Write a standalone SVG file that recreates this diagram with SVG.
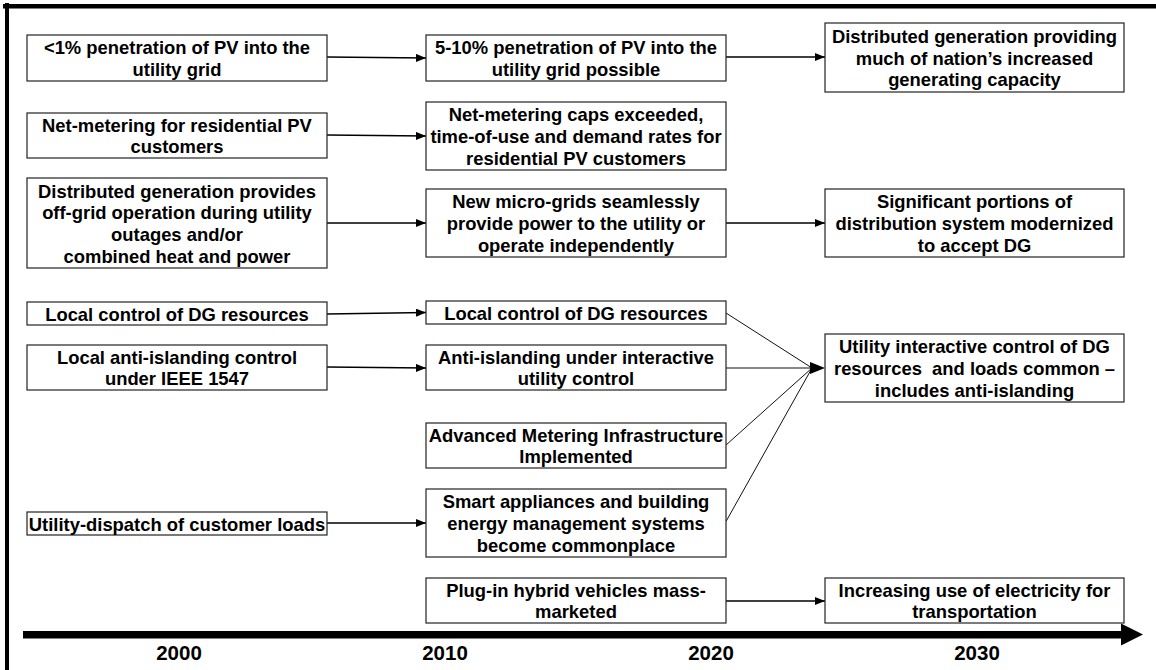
<svg xmlns="http://www.w3.org/2000/svg" width="1156" height="670" viewBox="0 0 1156 670">
<defs>
<style>
.box{fill:#fff;stroke:#222;stroke-width:1.2}
.t{font-family:"Liberation Sans",Arial,sans-serif;font-weight:bold;font-size:18.4px;fill:#000;text-anchor:middle}
.yr{font-family:"Liberation Sans",Arial,sans-serif;font-weight:bold;font-size:20.5px;fill:#000;text-anchor:middle}
.c{stroke:#000;stroke-width:1.5;fill:none}
.f{stroke:#111;stroke-width:1;fill:none}
</style>
<marker id="ah" markerUnits="userSpaceOnUse" markerWidth="10" markerHeight="8" refX="10" refY="4" orient="auto">
<path d="M0,0 L10,4 L0,8 z" fill="#000"/>
</marker>
</defs>
<rect width="1156" height="670" fill="#fff"/>
<g id="frame">
<rect x="3" y="4" width="1153" height="4.5" fill="#000"/>
<rect x="5" y="3" width="4" height="667" fill="#000"/>
</g>
<g id="timeline">
<rect x="23" y="631" width="1099" height="7.5" fill="#000"/>
<polygon points="1121,623.5 1143,634.5 1121,645.5" fill="#000"/>
<text class="yr" x="179" y="660">2000</text>
<text class="yr" x="445" y="660">2010</text>
<text class="yr" x="711" y="660">2020</text>
<text class="yr" x="977" y="660">2030</text>
</g>
<g id="connectors">
<path class="c" d="M327,57 L426,58" marker-end="url(#ah)"/>
<path class="c" d="M327,135 L426,136" marker-end="url(#ah)"/>
<path class="c" d="M327,223 L426,223" marker-end="url(#ah)"/>
<path class="c" d="M327,314 L426,312.5" marker-end="url(#ah)"/>
<path class="c" d="M327,367 L426,368" marker-end="url(#ah)"/>
<path class="c" d="M327,523 L426,523" marker-end="url(#ah)"/>
<path class="c" d="M726,57 L825,57" marker-end="url(#ah)"/>
<path class="c" d="M726,223 L825,223" marker-end="url(#ah)"/>
<path class="c" d="M726,601 L825,601" marker-end="url(#ah)"/>
<path class="f" d="M726,313 L812,368"/>
<path class="f" d="M726,368 L812,368"/>
<path class="f" d="M726,445 L812,368"/>
<path class="f" d="M726,521.5 L812,368"/>
<polygon points="810,362 825,368 810,374" fill="#000"/>
</g>
<g id="n1"><rect class="box" x="27" y="35" width="300" height="46"/>
<text class="t" x="177" y="54.2">&lt;1% penetration of PV into the</text><text class="t" x="177" y="75.9">utility grid</text></g>
<g id="n2"><rect class="box" x="27" y="113" width="300" height="45"/>
<text class="t" x="177" y="131.7">Net-metering for residential PV</text><text class="t" x="177" y="153.4">customers</text></g>
<g id="n3"><rect class="box" x="27" y="178" width="300" height="90"/>
<text class="t" x="177" y="197.5">Distributed generation provides</text><text class="t" x="177" y="219.2">off-grid operation during utility</text><text class="t" x="177" y="240.9">outages and/or</text><text class="t" x="177" y="262.6">combined heat and power</text></g>
<g id="n4"><rect class="box" x="27" y="302" width="300" height="23"/>
<text class="t" x="177" y="320.5">Local control of DG resources</text></g>
<g id="n5"><rect class="box" x="27" y="345" width="300" height="45"/>
<text class="t" x="177" y="363.7">Local anti-islanding control</text><text class="t" x="177" y="385.4">under IEEE 1547</text></g>
<g id="n6"><rect class="box" x="27" y="512" width="300" height="23"/>
<text class="t" x="177" y="530.5">Utility-dispatch of customer loads</text></g>
<g id="n7"><rect class="box" x="426" y="35" width="300" height="46"/>
<text class="t" x="576" y="54.2">5-10% penetration of PV into the</text><text class="t" x="576" y="75.9">utility grid possible</text></g>
<g id="n8"><rect class="box" x="426" y="102" width="300" height="68"/>
<text class="t" x="576" y="121.3">Net-metering caps exceeded,</text><text class="t" x="576" y="143">time-of-use and demand rates for</text><text class="t" x="576" y="164.7">residential PV customers</text></g>
<g id="n9"><rect class="box" x="426" y="189" width="300" height="68"/>
<text class="t" x="576" y="208.3">New micro-grids seamlessly</text><text class="t" x="576" y="230">provide power to the utility or</text><text class="t" x="576" y="251.7">operate independently</text></g>
<g id="n10"><rect class="box" x="426" y="301" width="300" height="23"/>
<text class="t" x="576" y="319.5">Local control of DG resources</text></g>
<g id="n11"><rect class="box" x="426" y="345" width="300" height="45"/>
<text class="t" x="576" y="363.7">Anti-islanding under interactive</text><text class="t" x="576" y="385.4">utility control</text></g>
<g id="n12"><rect class="box" x="426" y="423" width="300" height="45"/>
<text class="t" x="576" y="441.7">Advanced Metering Infrastructure</text><text class="t" x="576" y="463.4">Implemented</text></g>
<g id="n13"><rect class="box" x="426" y="489" width="300" height="68"/>
<text class="t" x="576" y="508.3">Smart appliances and building</text><text class="t" x="576" y="530">energy management systems</text><text class="t" x="576" y="551.7">become commonplace</text></g>
<g id="n14"><rect class="box" x="426" y="578" width="300" height="45"/>
<text class="t" x="576" y="596.7">Plug-in hybrid vehicles mass-</text><text class="t" x="576" y="618.4">marketed</text></g>
<g id="n15"><rect class="box" x="825" y="23" width="299" height="69"/>
<text class="t" x="974.5" y="42.8">Distributed generation providing</text><text class="t" x="974.5" y="64.5">much of nation’s increased</text><text class="t" x="974.5" y="86.2">generating capacity</text></g>
<g id="n16"><rect class="box" x="825" y="189" width="299" height="68"/>
<text class="t" x="974.5" y="208.3">Significant portions of</text><text class="t" x="974.5" y="230">distribution system modernized</text><text class="t" x="974.5" y="251.7">to accept DG</text></g>
<g id="n17"><rect class="box" x="825" y="334" width="299" height="68"/>
<text class="t" x="974.5" y="353.3">Utility interactive control of DG</text><text class="t" x="974.5" y="375">resources&#160; and loads common –</text><text class="t" x="974.5" y="396.7">includes anti-islanding</text></g>
<g id="n18"><rect class="box" x="825" y="578" width="299" height="45"/>
<text class="t" x="974.5" y="596.7">Increasing use of electricity for</text><text class="t" x="974.5" y="618.4">transportation</text></g>
</svg>
